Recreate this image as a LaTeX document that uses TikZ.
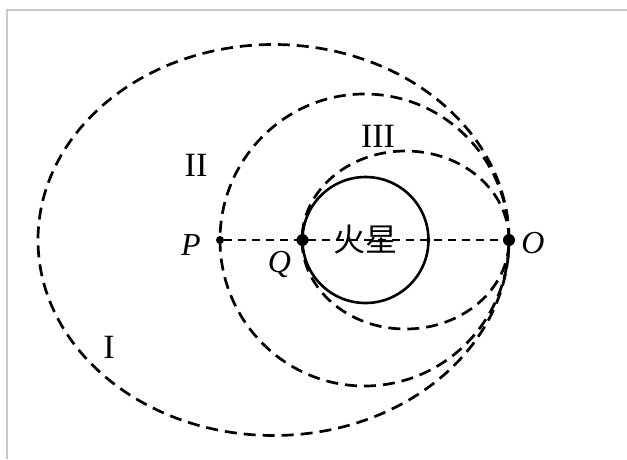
\documentclass[tikz,border=0pt]{standalone}
\usepackage{fontspec}
\setmainfont{Liberation Serif}
\newfontfamily\cjk{Noto Sans CJK SC}
\usetikzlibrary{positioning,backgrounds}
\definecolor{scanGray}{RGB}{200,200,200}
\begin{document}
\begin{tikzpicture}[x=1pt, y=-1pt,
  orbit/.style={dash pattern=on 12pt off 7pt, line width=2.7pt},
  axisline/.style={dash pattern=on 8pt off 6pt, line width=2.7pt},
  planet/.style={circle, draw, line width=2.6pt, minimum size=126pt,
                 inner sep=0pt, outer sep=0pt, font=\cjk\fontsize{32}{34}\selectfont},
  spot/.style={circle, fill, inner sep=0pt, minimum size=12pt},
  smallspot/.style={spot, minimum size=8pt},
  ptlabel/.style={font=\itshape\fontsize{32}{34}\selectfont, inner sep=2pt},
  numlabel/.style={font=\fontsize{34}{36}\selectfont, inner sep=0pt},
  frameline/.style={scanGray, line width=1.5pt},
]
\useasboundingbox (0,0) rectangle (627,459);

%% frame of the scan (top and left edge only)
\draw[frameline] (627,10) -- (7,10) -- (7,459);

%%──────────────────────────────────────────────
%% orbits, all touching at O
%%──────────────────────────────────────────────
\def\ox{509}   % x of O
\def\oy{240}   % axis height

\draw[orbit] (273.5,\oy) ellipse [x radius=235.5pt, y radius=195.5pt]; % I
\draw[orbit] (364.5,\oy) ellipse [x radius=144.5pt, y radius=146pt];   % II
\draw[orbit] (405.5,\oy) ellipse [x radius=103.5pt, y radius=89pt];    % III

% Mars
\node[planet] (mars) at (365.5,\oy) {火星};

% points on the axis
\node[smallspot] (P) at (220,\oy) {};
\node[spot] (Q) at (mars.west) {};
\node[spot] (O) at (\ox,\oy) {};

\begin{scope}[on background layer]
  \draw[axisline] (P) -- (O);
\end{scope}

% point labels
\node[ptlabel, left=13pt of P, yshift=-5pt] (Plbl) {P};
\node[ptlabel, left=3pt of Q, yshift=-24pt] (Qlbl) {Q};
\node[ptlabel, right=4pt of O, yshift=-3pt] (Olbl) {O};

% orbit numbers
\node[numlabel] (orbI) at (109,347) {I};
\node[numlabel] (orbII) at (196,165) {II};
\node[numlabel] (orbIII) at (378,136) {III};

\end{tikzpicture}
\end{document}
